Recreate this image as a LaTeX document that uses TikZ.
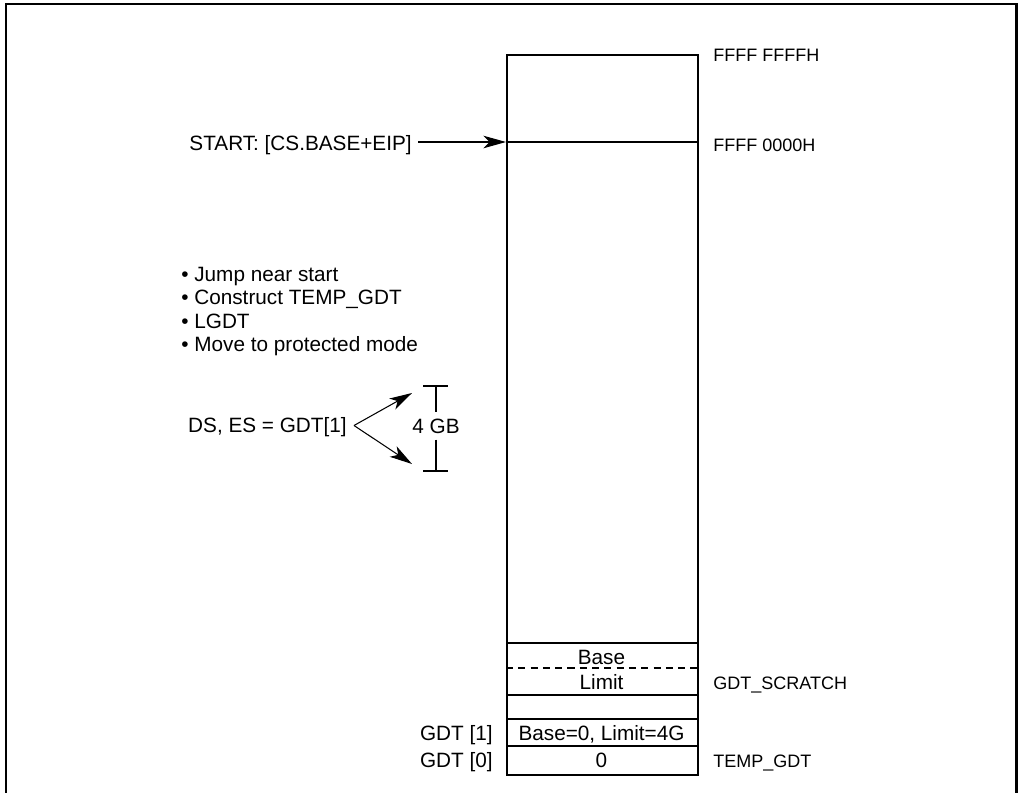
\documentclass[tikz,border=0pt]{standalone}
\usepackage{fontspec}
\setmainfont{Liberation Sans}
\usetikzlibrary{arrows.meta, positioning, calc}

\begin{document}
\begin{tikzpicture}[
    x=0.02cm, y=-0.02cm,
    big/.style={font=\fontsize{11.8}{14}\selectfont, inner sep=0pt},
    small/.style={font=\fontsize{10.25}{12}\selectfont, inner sep=0pt},
    memory/.style={draw, line width=1.1pt, minimum width=3.82cm, minimum height=14.4cm, anchor=north west},
    arrow/.style={-{Stealth[length=0.45cm, width=0.25cm, inset=0.12cm]}, line width=0.6pt},
    thin/.style={line width=0.6pt}
]
\useasboundingbox (0,0) rectangle (1018,792);

% Frame
\draw[line width=1.7pt] (6,800) |- (1016,4) -- (1016,800);

% Memory column
\node[memory] (mem) at (506,54) {};
\coordinate (entry) at (506,142);
\draw[thin] (entry) -- (entry -| mem.east);
\foreach \y in {643,695,719,746}
  \draw[thin] (mem.west |- 0,\y) -- (mem.east |- 0,\y);
\draw[thin, dash pattern=on 4pt off 3pt] (mem.west |- 0,668) -- (mem.east |- 0,668);

\node[big, anchor=base] (base) at (601.5,664) {Base};
\node[big, anchor=base] (limit) at (601.5,689) {Limit};
\node[big, anchor=base] (gdtone) at (601.5,740.5) {Base=0, Limit=4G};
\node[big, anchor=base] (gdtzero) at (601.5,767) {0};

% Addresses
\node[small, anchor=base west] (top) at (713,61.5) {FFFF FFFFH};
\node[small, anchor=base west] (reset) at (713,151.5) {FFFF 0000H};
\node[small, anchor=base west] (scratch) at (713,689) {GDT\_SCRATCH};
\node[small, anchor=base west] (temp) at (713,767) {TEMP\_GDT};

% Entry point
\node[big, anchor=base east] (start) at (412,150.5) {START: [CS.BASE+EIP]};
\draw[arrow] ([xshift=0.12cm]start.east |- entry) -- (entry);

% Steps
\foreach \t [count=\i] in {Jump near start, Construct TEMP\_GDT, LGDT, Move to protected mode}
  \node[big, anchor=base west] (step\i) at (181,257.5+23.5*\i) {\textbullet\ \t};

% Segment registers
\node[big, anchor=base east] (ds) at (347,432) {DS, ES = GDT[1]};
\coordinate (fork) at (354,425.5);
\coordinate (up) at (412,393);
\coordinate (down) at (412,464);
\draw[arrow] (fork) -- (up);
\draw[arrow] (fork) -- (down);

\node[big, inner sep=0.12cm] (gb) at (436,426) {4 GB};
\draw[thin] (423,386) -- (448,386);
\draw[thin] (423,471) -- (448,471);
\draw[thin] (gb.north |- 0,386) -- (gb.north);
\draw[thin] (gb.south) -- (gb.south |- 0,471);

% Table labels
\node[big, anchor=base east] (gdt1) at (493,740.5) {GDT [1]};
\node[big, anchor=base east] (gdt0) at (493,767) {GDT [0]};

\end{tikzpicture}
\end{document}
